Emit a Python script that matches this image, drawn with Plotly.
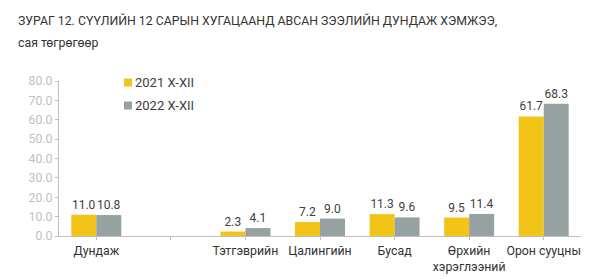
import plotly.graph_objects as go

categories = ["Дундаж", " ", "Тэтгэврийн", "Цалингийн", "Бусад", "Өрхийн<br>хэрэглээний", "Орон сууцны"]
series_2021 = [11.0, None, 2.3, 7.2, 11.3, 9.5, 61.7]
series_2022 = [10.8, None, 4.1, 9.0, 9.6, 11.4, 68.3]
series_names = ["2021 X-XII", "2022 X-XII"]
series_colors = ["#F2C417", "#96A2A1"]
y_ticks = [0, 10, 20, 30, 40, 50, 60, 70, 80]

L, R, T, B, W, H = 59, 24, 81, 43, 605, 279
PW, PH = W - L - R, H - T - B

def px_x(p):
    return (p - L) / PW

def px_y(p):
    return (H - B - p) / PH

def labels(vals):
    return ["" if v is None else f"{v:.1f}" for v in vals]

fig = go.Figure()
for name, vals, col in zip(series_names, [series_2021, series_2022], series_colors):
    fig.add_trace(go.Bar(
        x=categories, y=vals, name=name,
        marker=dict(color=col, line=dict(width=0)),
        text=labels(vals), textposition="outside", cliponaxis=False,
        textfont=dict(size=12, color="#404040"),
    ))

shapes = []
annotations = [
    dict(text="ЗУРАГ 12. СҮҮЛИЙН 12 САРЫН ХУГАЦААНД АВСАН ЗЭЭЛИЙН ДУНДАЖ ХЭМЖЭЭ,",
         xref="paper", yref="paper", x=px_x(16), y=px_y(20), xanchor="left", yanchor="middle",
         showarrow=False, font=dict(size=12.3, color="#333333")),
    dict(text="сая төгрөгөөр",
         xref="paper", yref="paper", x=px_x(16), y=px_y(43), xanchor="left", yanchor="middle",
         showarrow=False, font=dict(size=12.3, color="#333333")),
]
# manual legend
for i, (name, col) in enumerate(zip(series_names, series_colors)):
    cy = 82.5 + 23 * i
    shapes.append(dict(type="rect", xref="paper", yref="paper",
                       x0=px_x(124), x1=px_x(132), y0=px_y(cy - 4), y1=px_y(cy + 4),
                       fillcolor=col, line=dict(width=0)))
    annotations.append(dict(text=name, xref="paper", yref="paper",
                            x=px_x(133), y=px_y(cy), xanchor="left", yanchor="middle",
                            showarrow=False, font=dict(size=13, color="#404040")))

fig.update_layout(
    width=W, height=H,
    margin=dict(l=L, r=R, t=T, b=B, autoexpand=False),
    paper_bgcolor="white", plot_bgcolor="white",
    font=dict(family="Roboto, Arial, sans-serif", size=12, color="#404040"),
    barmode="group", bargap=0.33, bargroupgap=0,
    showlegend=False,
    shapes=shapes, annotations=annotations,
)
fig.update_xaxes(
    type="category", showline=True, linecolor="#BFBFBF", linewidth=1,
    ticks="outside", ticklen=3, tickcolor="#BFBFBF", automargin=False,
    tickangle=0, tickfont=dict(size=12.3, color="#333333"), showgrid=False,
)
fig.update_yaxes(
    range=[0, 80], tickvals=y_ticks, tickformat=".1f",
    showline=True, linecolor="#BFBFBF", linewidth=1, automargin=False,
    ticks="outside", ticklen=3, tickcolor="#BFBFBF",
    tickfont=dict(size=12.3, color="#BFBFBF"), showgrid=False, zeroline=False,
)

fig.write_html("out.html")
